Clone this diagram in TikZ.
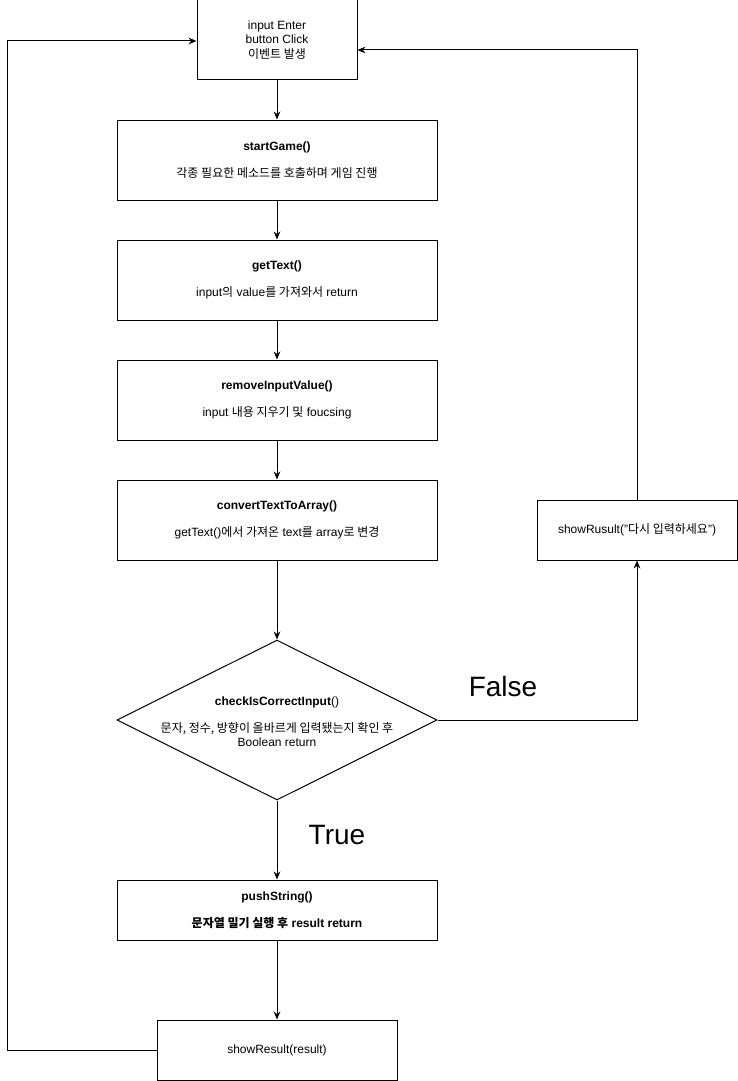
\documentclass[tikz,border=0pt]{standalone}
\usepackage{fontspec}
\setmainfont{Liberation Sans}
\newfontfamily\korfont{Noto Sans CJK KR}
\newcommand{\kor}[1]{{\korfont #1}}
\usetikzlibrary{shapes.geometric,arrows.meta}

\tikzset{
  procbox/.style={draw, line width=0.75pt, rectangle, inner sep=0pt, minimum width=240pt, minimum height=60pt, align=center, font=\fontsize{9pt}{11pt}\selectfont},
  decision/.style={draw, line width=0.75pt, diamond, inner sep=0pt, minimum width=240pt, minimum height=120pt},
  flow/.style={line width=0.75pt, -{Stealth[length=6pt,width=5pt]}},
  answer/.style={font=\fontsize{21pt}{24pt}\selectfont}
}

\begin{document}
\begin{tikzpicture}[x=0.75pt,y=-0.75pt]
% Place nodes
\useasboundingbox (0,0) rectangle (738,1081);

\node[procbox, minimum width=120pt] (event) at (277,40) {input Enter\\button Click\\\kor{이벤트 발생}};

\node[procbox] (start) at (277,160) {\textbf{startGame()}\\[9pt]\kor{각종 필요한 메소드를 호출하며 게임 진행}};

\node[procbox] (gettext) at (277,280) {\textbf{getText()}\\[9pt]input\kor{의} value\kor{를 가져와서} return};

\node[procbox] (remove) at (277,400) {\textbf{removeInputValue()}\\[9pt]input \kor{내용 지우기 및} foucsing};

\node[procbox] (convert) at (277,520) {\textbf{convertTextToArray()}\\[9pt]getText()\kor{에서 가져온} text\kor{를} array\kor{로 변경}};

\node[decision] (check) at (277,720) {};
\node[align=center, font=\fontsize{9pt}{11pt}\selectfont] (checktext) at (277,722) {\textbf{checkIsCorrectInput}()\\[9pt]\kor{문자, 정수, 방향이 올바르게 입력됐는지 확인 후}\\Boolean return};

\node[procbox, minimum height=45pt] (push) at (277,910) {\textbf{pushString()}\\[9pt]\textbf{\kor{문자열 밀기 실행 후} result return}};

\node[procbox, minimum width=180pt, minimum height=45pt] (result) at (277,1050) {showResult(result)};

\node[procbox, minimum width=150pt, minimum height=45pt] (retry) at (637,530) {showRusult(\char"22\kor{다시 입력하세요}\char"22)};

% labels
\node[answer] (false) at (503,686) {False};
\node[answer] (true) at (337,835) {True};

% main flow
\draw[flow] (event) -- (start);
\draw[flow] (start) -- (gettext);
\draw[flow] (gettext) -- (remove);
\draw[flow] (remove) -- (convert);
\draw[flow] (convert) -- (check);
\draw[flow] (check) -- (push);
\draw[flow] (push) -- (result);

% false branch
\draw[flow] (check.east) -| (retry.south);
\draw[flow] (retry.north) |- ([yshift=-7.5pt]event.east);

% back to start
\draw[flow] (result.west) -- ++(-149,0) |- ([yshift=-0.75pt]event.west);

\end{tikzpicture}
\end{document}
